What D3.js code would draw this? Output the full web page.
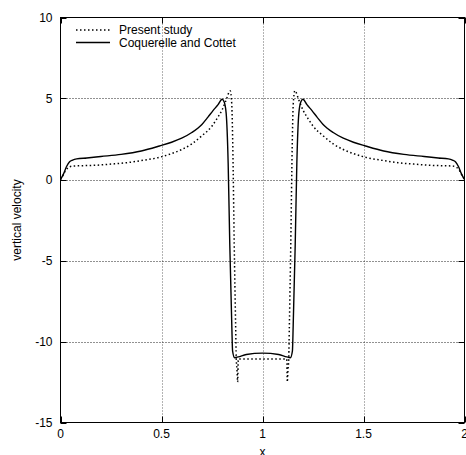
<!DOCTYPE html>
<html>
<head>
<meta charset="utf-8">
<script src="https://cdn.jsdelivr.net/npm/d3@7"></script>
<style>
  html, body { margin: 0; padding: 0; background: #fff; }
  svg { display: block; }
  text { font-family: "Liberation Sans", Arial, Helvetica, sans-serif; font-size: 12px; fill: #000; }
</style>
</head>
<body>
<svg id="chart" width="466" height="455"></svg>
<script>
// Vertical velocity profiles across the domain
const presentX = [0, 0.01, 0.025, 0.04, 0.06, 0.1, 0.16, 0.25, 0.33, 0.4, 0.49, 0.55, 0.6, 0.65, 0.7, 0.75, 0.77, 0.8, 0.82, 0.84,
  0.848, 0.853, 0.86, 0.867, 0.87, 0.874, 0.877, 0.88, 0.9, 1.0, 1.1, 1.12, 1.123, 1.126, 1.13, 1.133, 1.14, 1.147, 1.152, 1.16,
  1.18, 1.2, 1.23, 1.25, 1.3, 1.35, 1.4, 1.45, 1.51, 1.6, 1.67, 1.75, 1.84, 1.9, 1.94, 1.96, 1.975, 1.99, 2];
const presentY = [0, 0.2, 0.55, 0.75, 0.83, 0.85, 0.87, 0.95, 1.04, 1.17, 1.37, 1.6, 1.85, 2.2, 2.7, 3.3, 3.67, 4.3, 4.9, 5.48,
  4.6, 2.0, -4.0, -9.0, -11.0, -11.8, -12.5, -11.08, -11.08, -11.08, -11.08, -11.08, -12.5, -11.8, -11.0, -9.0, -4.0, 2.0, 4.6, 5.48,
  4.9, 4.3, 3.67, 3.3, 2.7, 2.2, 1.85, 1.6, 1.37, 1.17, 1.04, 0.95, 0.87, 0.85, 0.83, 0.75, 0.55, 0.2, 0];

const coqX = [0, 0.015, 0.03, 0.045, 0.06, 0.08, 0.13, 0.2, 0.3, 0.4, 0.49, 0.55, 0.6, 0.65, 0.7, 0.73, 0.755, 0.78, 0.8, 0.81, 0.82, 0.83,
  0.838, 0.848, 0.852, 0.862, 0.88, 0.92, 1.0, 1.08, 1.12, 1.138, 1.148, 1.152, 1.162, 1.17, 1.18, 1.19, 1.2,
  1.22, 1.245, 1.27, 1.3, 1.35, 1.4, 1.45, 1.51, 1.6, 1.7, 1.8, 1.87, 1.92, 1.94, 1.955, 1.97, 1.985, 2];
const coqY = [0, 0.35, 0.8, 1.1, 1.2, 1.27, 1.33, 1.42, 1.55, 1.76, 2.07, 2.3, 2.55, 2.9, 3.4, 3.85, 4.25, 4.62, 4.95, 4.8, 4.1, 1.0,
  -4.0, -9.0, -10.6, -11.0, -10.95, -10.8, -10.72, -10.8, -10.95, -11.0, -10.6, -9.0, -4.0, 1.0, 4.1, 4.8, 4.95,
  4.62, 4.25, 3.85, 3.4, 2.9, 2.55, 2.3, 2.07, 1.76, 1.55, 1.42, 1.33, 1.27, 1.2, 1.1, 0.8, 0.35, 0];

const xTicks = [0, 0.5, 1, 1.5, 2];
const xTickLabels = ["0", "0.5", "1", "1.5", "2"];
const yTicks = [-15, -10, -5, 0, 5, 10];
const yTickLabels = ["-15", "-10", "-5", "0", "5", "10"];
const seriesNames = ["Present study", "Coquerelle and Cottet"];

const svg = d3.select("#chart");
const plotL = 60.5, plotR = 464.5, plotT = 17.5, plotB = 422.5;

const x = d3.scaleLinear().domain([0, 2]).range([plotL, plotR]);
const y = d3.scaleLinear().domain([-15, 10]).range([plotB, plotT]);

// Grid
const grid = svg.append("g").attr("stroke-width", 1).attr("stroke-dasharray", "1,2");
grid.selectAll("line.gx").data(xTicks.slice(1, -1)).join("line")
  .attr("stroke", "#666")
  .attr("x1", d => Math.round(x(d)) + 0.5).attr("x2", d => Math.round(x(d)) + 0.5)
  .attr("y1", plotT).attr("y2", plotB);
grid.selectAll("line.gy").data(yTicks.slice(1, -1)).join("line")
  .attr("stroke", "#222")
  .attr("y1", d => Math.round(y(d)) + 0.5).attr("y2", d => Math.round(y(d)) + 0.5)
  .attr("x1", plotL).attr("x2", plotR);

// Inward ticks on all four sides
const tk = svg.append("g").attr("stroke", "#000").attr("stroke-width", 1);
xTicks.forEach(d => {
  const px = Math.round(x(d)) + 0.5;
  tk.append("line").attr("x1", px).attr("x2", px).attr("y1", plotB).attr("y2", plotB - 6);
  tk.append("line").attr("x1", px).attr("x2", px).attr("y1", plotT).attr("y2", plotT + 6);
});
yTicks.forEach(d => {
  const py = Math.round(y(d)) + 0.5;
  tk.append("line").attr("y1", py).attr("y2", py).attr("x1", plotL).attr("x2", plotL + 6);
  tk.append("line").attr("y1", py).attr("y2", py).attr("x1", plotR).attr("x2", plotR - 6);
});

// Tick labels
svg.append("g").selectAll("text").data(xTicks).join("text")
  .attr("x", d => x(d)).attr("y", plotB + 15)
  .attr("text-anchor", "middle")
  .text((d, i) => xTickLabels[i]);
svg.append("g").selectAll("text").data(yTicks).join("text")
  .attr("x", plotL - 8).attr("y", d => y(d) + 4)
  .attr("text-anchor", "end")
  .text((d, i) => yTickLabels[i]);

// Axis titles
svg.append("text").attr("x", x(1)).attr("y", 456).attr("text-anchor", "middle").text("x");
svg.append("text").attr("transform", `translate(21,${y(-2.5)}) rotate(-90)`)
  .attr("text-anchor", "middle").text("vertical velocity");

// Curves
const line = d3.line().x(d => x(d[0])).y(d => y(d[1])).curve(d3.curveMonotoneX);
const presentPts = presentX.map((v, i) => [v, presentY[i]]);
const coqPts = coqX.map((v, i) => [v, coqY[i]]);

svg.append("path").datum(coqPts).attr("d", line)
  .attr("fill", "none").attr("stroke", "#000").attr("stroke-width", 1.4);
svg.append("path").datum(presentPts).attr("d", line)
  .attr("fill", "none").attr("stroke", "#000").attr("stroke-width", 1.5)
  .attr("stroke-dasharray", "1.5,2.5");

// Frame
svg.append("rect").attr("x", plotL).attr("y", plotT)
  .attr("width", plotR - plotL).attr("height", plotB - plotT)
  .attr("fill", "none").attr("stroke", "#000").attr("stroke-width", 1);

// Legend
const lg = svg.append("g");
const styles = [{ dash: "1.5,2.5", w: 1.5 }, { dash: null, w: 1.4 }];
seriesNames.forEach((name, i) => {
  const ly = 30 + i * 12.5;
  lg.append("line").attr("x1", 76).attr("x2", 110).attr("y1", ly).attr("y2", ly)
    .attr("stroke", "#000").attr("stroke-width", styles[i].w)
    .attr("stroke-dasharray", styles[i].dash);
  lg.append("text").attr("x", 119).attr("y", ly + 4).text(name);
});
</script>
</body>
</html>
